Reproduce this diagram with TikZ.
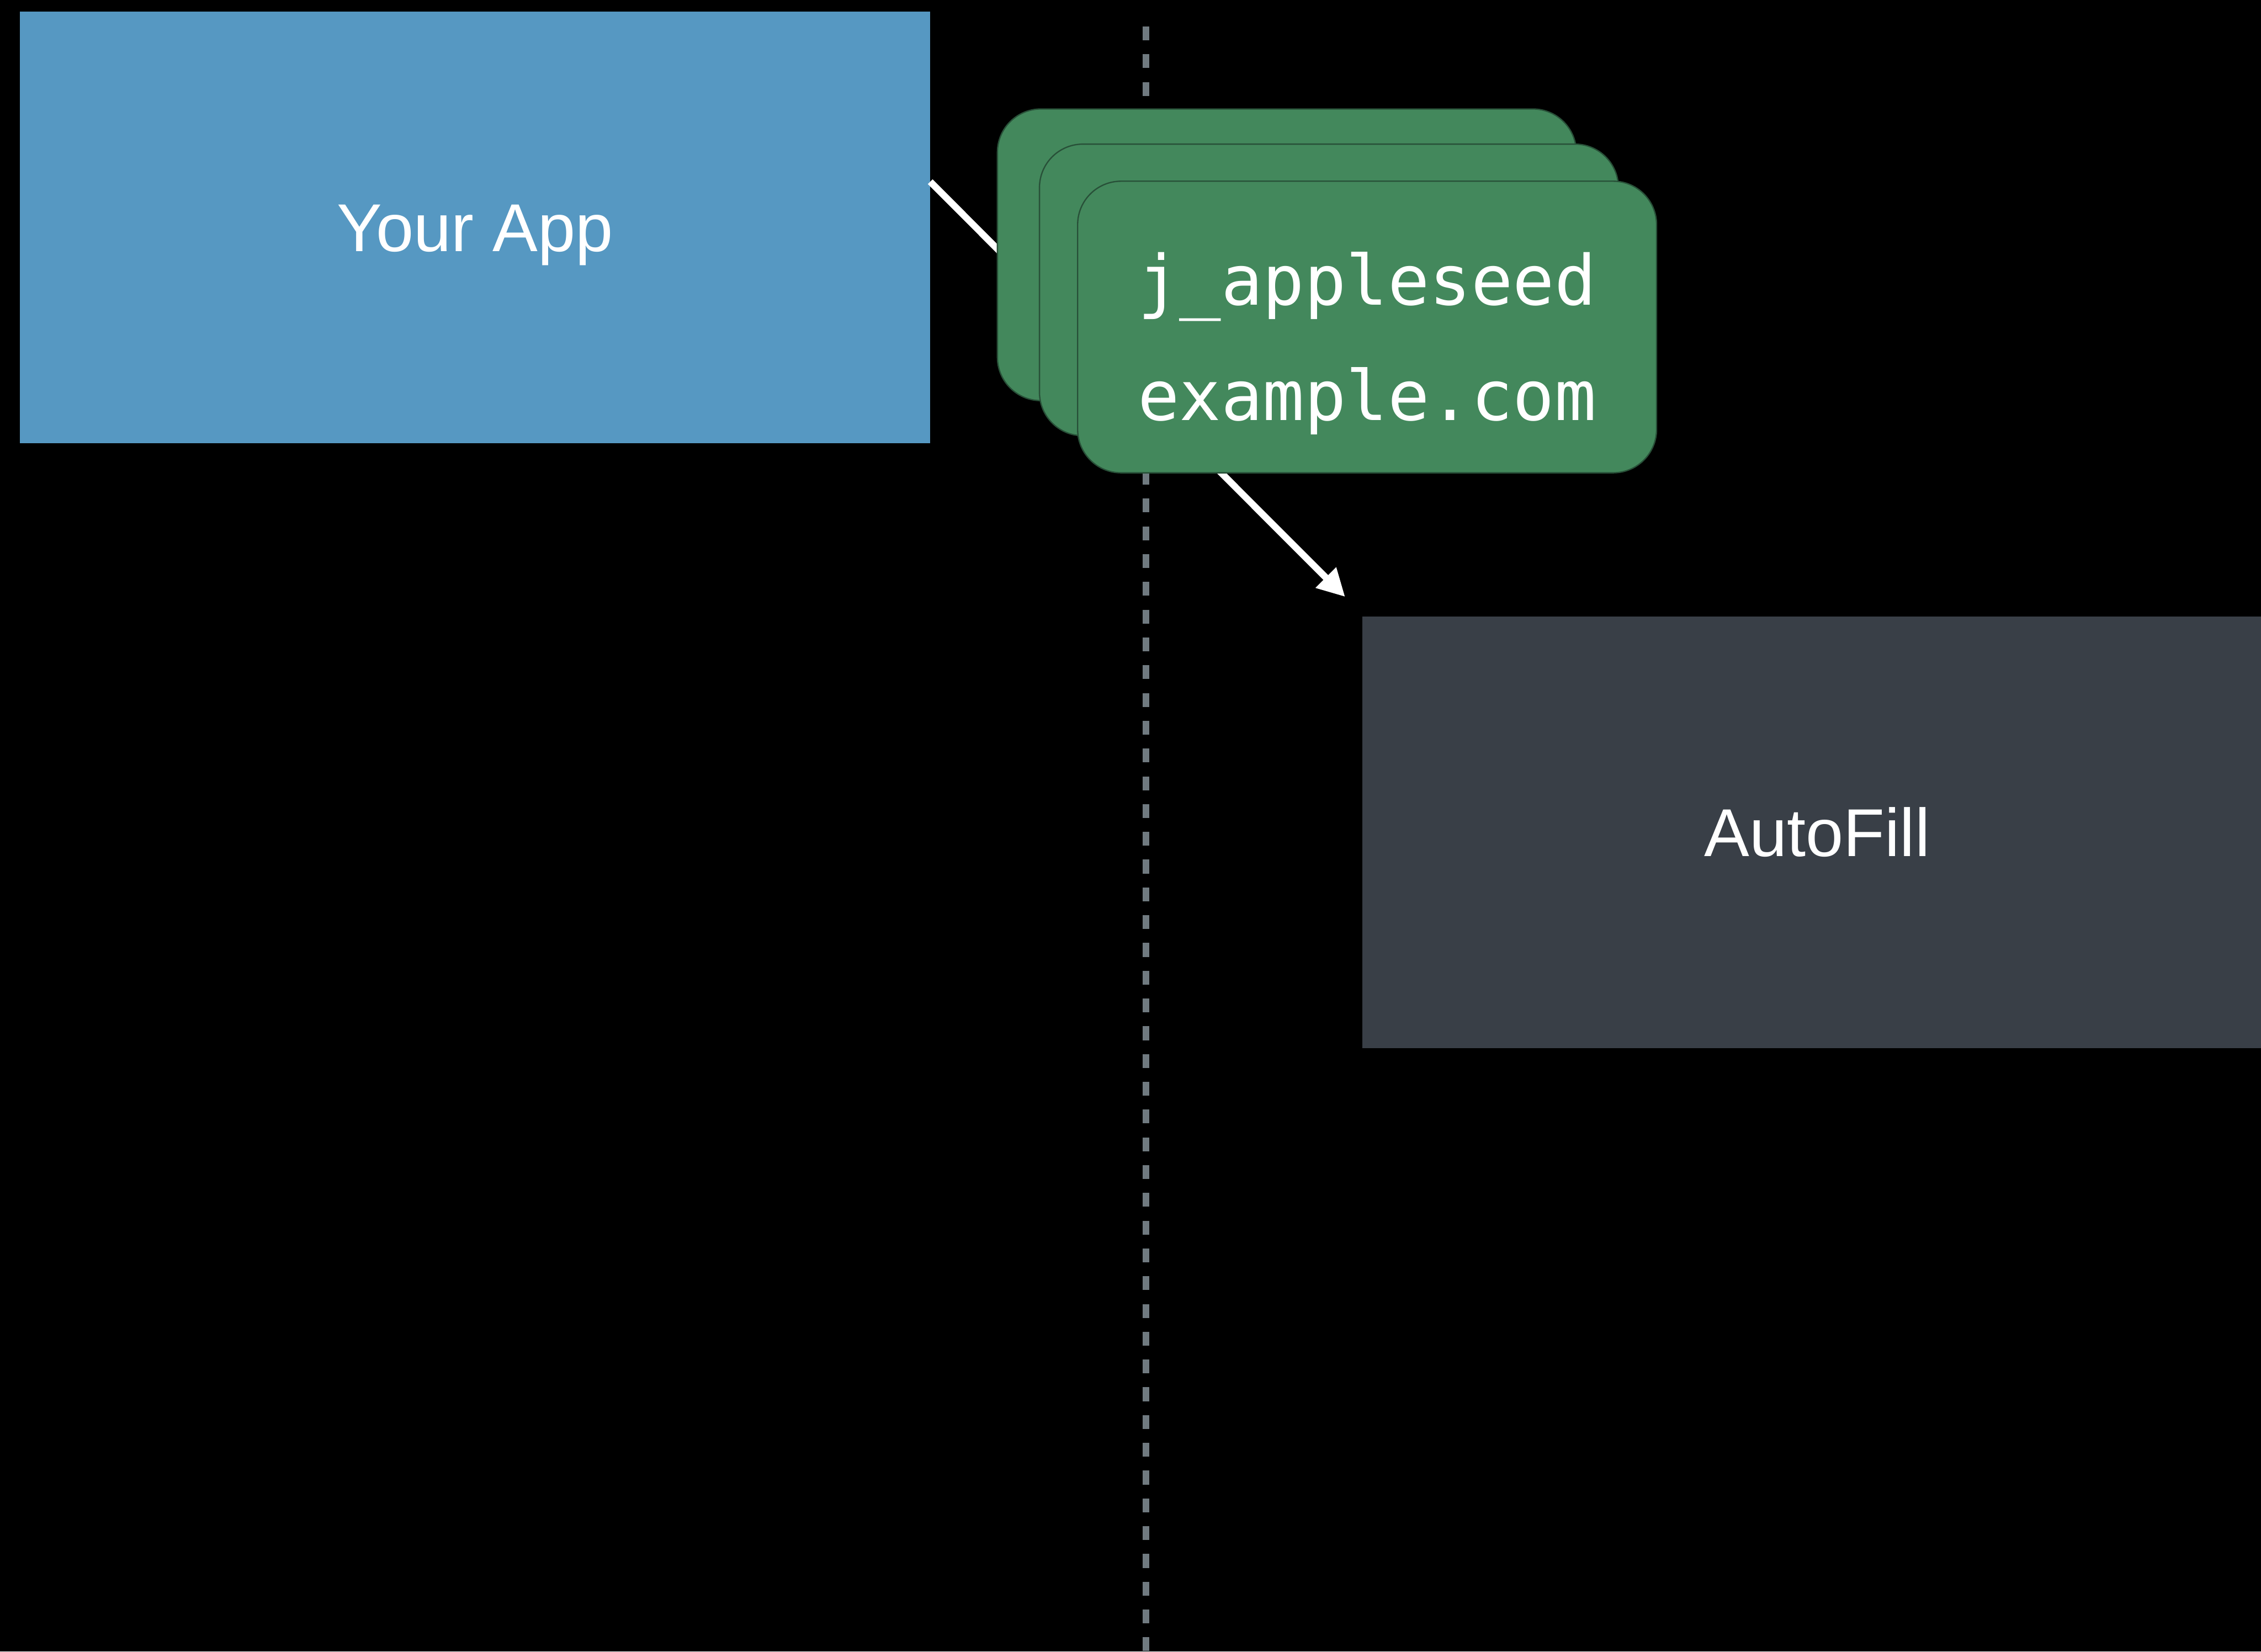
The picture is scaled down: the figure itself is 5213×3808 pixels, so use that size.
\documentclass[tikz,border=0pt]{standalone}
\usepackage{fontspec}
\setmainfont{Liberation Sans}
\newfontfamily\credfont{DejaVu Sans Mono}
\usetikzlibrary{arrows.meta}

\definecolor{appblue}{RGB}{86,152,194}
\definecolor{systemgray}{RGB}{57,63,71}
\definecolor{cardgreen}{RGB}{67,136,92}
\definecolor{cardedge}{RGB}{40,80,56}
\definecolor{dashgray}{RGB}{112,122,128}

\begin{document}
\begin{tikzpicture}[x=0.01cm, y=-0.01cm,
  panel/.style={rectangle, minimum width=20.97cm, minimum height=9.95cm,
    inner sep=0pt, outer sep=0pt, text=white,
    text height=1.12cm, text depth=0cm,
    font=\fontsize{44.4pt}{50pt}\selectfont},
  card/.style={rectangle, rounded corners=1cm, fill=cardgreen, draw=cardedge,
    line width=0.03cm, minimum width=13.34cm, minimum height=6.72cm,
    inner sep=0pt},
  credtext/.style={text=white, inner sep=0pt, anchor=base,
    font=\credfont\fontsize{45.4pt}{50pt}\selectfont},
  flow/.style={draw=white, line width=0.155cm,
    -{Triangle[length=0.63cm, width=0.63cm]}},
  divider/.style={draw=dashgray, line width=0.16cm,
    dash pattern=on 0.32cm off 0.32cm}
]
% canvas
\clip (0,0) rectangle (5213,3808);
\fill[black] (0,0) rectangle (5213,3808);

% process boundary
\coordinate (divtop) at (2642,61);
\coordinate (divbot) at (2642,3808);
\draw[divider] (divtop) -- (divbot);

% the two sides
\node[panel, fill=appblue] (app) at (1095.5,524) {Your App};
\node[panel, fill=systemgray] (autofill) at (4189.5,1919) {AutoFill};

% credentials passed from the app to AutoFill
\coordinate (src) at ([yshift=1.05cm]app.east);
\coordinate (dst) at ([xshift=-0.39cm, yshift=0.45cm]autofill.north west);
\draw[flow] (src) -- (dst);

% stack of credential cards
\node[card] (cardback) at (2967,587.5) {};
\node[card] (cardmid) at (3064,668.5) {};
\node[card] (cardfront) at (3152,754) {};
\node[credtext] (user) at (3152,703) {j\_appleseed};
\node[credtext] (domain) at (3152,969) {example.com};
\end{tikzpicture}
\end{document}
